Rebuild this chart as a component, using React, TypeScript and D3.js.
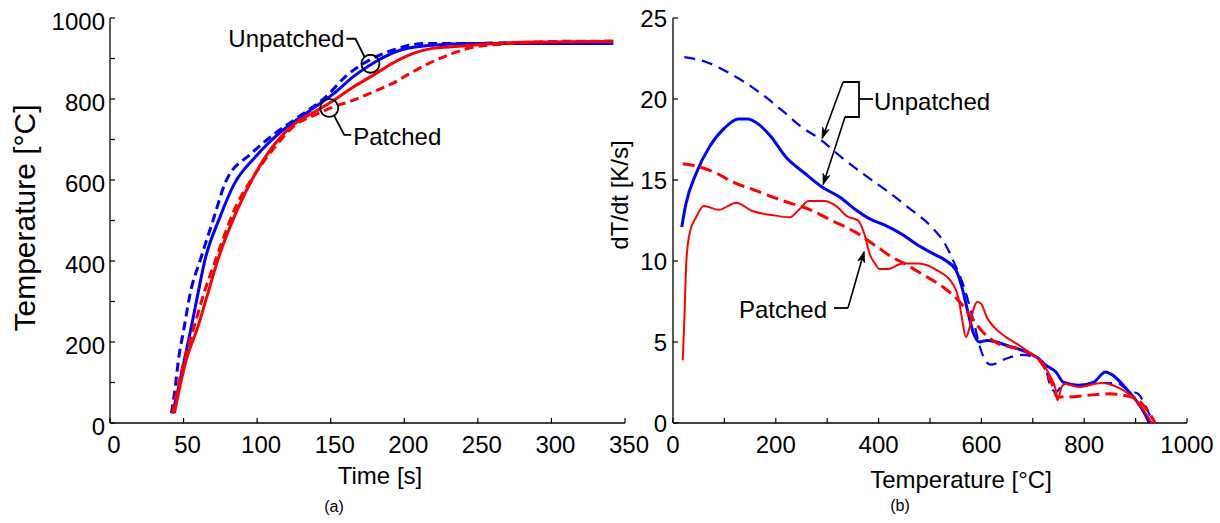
import React from "react";
import * as d3 from "d3";

type Pt = [number, number];

// (a) temperature vs time
const timeTicks = [0, 50, 100, 150, 200, 250, 300, 350];
const tempMinorTicks = [0, 100, 200, 300, 400, 500, 600, 700, 800, 900, 1000];
const tempTicks = [0, 200, 400, 600, 800, 1000];

const unpatchedSolidA: Pt[] = [
  [42.5, 24], [45.7, 73], [50.5, 155], [55.3, 238], [59.8, 320], [64.5, 402],
  [74.8, 509], [84.1, 588], [98.8, 657], [117.5, 723], [136.2, 772], [152.2, 814],
  [165.6, 856], [179, 889], [197.6, 921], [219, 933], [245.7, 937], [300, 937], [342, 937],
];
const unpatchedDashA: Pt[] = [
  [41.7, 24], [43.8, 73], [46.5, 155], [50.5, 238], [54.5, 320], [61.3, 402],
  [70, 500], [78.8, 597], [96.2, 666], [112.2, 715], [128.2, 756], [146.9, 806],
  [160.2, 856], [176.2, 896], [192.3, 921], [213.7, 937], [245.7, 937], [272, 939], [342, 937],
];
const patchedSolidA: Pt[] = [
  [43.8, 24], [46.5, 73], [51.8, 155], [59.8, 238], [66.5, 320], [73.2, 402],
  [85.5, 518], [98.8, 616], [112.2, 690], [125.5, 739], [138.9, 768], [152.2, 797],
  [165.6, 830], [179, 859], [192.3, 889], [205.7, 912], [219, 925], [232.4, 929],
  [250, 934], [280, 940], [342, 942],
];
const patchedDashA: Pt[] = [
  [42.5, 24], [45.2, 73], [50.5, 155], [57.2, 238], [63.8, 320], [71.7, 402],
  [85.5, 534], [98.8, 616], [112.2, 682], [125.5, 735], [138.9, 760], [152.2, 781],
  [165.6, 797], [179, 818], [192.3, 839], [205.7, 867], [219, 892], [232.4, 912],
  [245.7, 927], [272.4, 937], [299, 942], [342, 943],
];

// (b) heating rate vs temperature
const rateTicks = [0, 5, 10, 15, 20, 25];
const tempTicksB = [0, 200, 400, 600, 800, 1000];
const tempMinorB = [0, 100, 200, 300, 400, 500, 600, 700, 800, 900, 1000];

const unpatchedDashB: Pt[] = [
  [22, 22.58], [63, 22.3], [115, 21.5], [160, 20.6], [212, 19.3], [249, 18.3],
  [287, 17.5], [324, 16.5], [369, 15.4], [413, 14.4], [458, 13.3], [503, 12.1],
  [532, 10.9], [544, 10.1], [566, 8.4], [584, 6.4], [598, 4.6], [607, 3.9],
  [618, 3.6], [648, 3.97], [678, 4.2], [707, 4.07], [726, 3.25], [733, 2.4],
  [745, 1.9], [760, 2.43], [789, 2.3], [834, 2.47], [864, 2.47], [886, 2.0],
  [905, 1.8], [920, 1.0], [934, 0],
];
const unpatchedSolidB: Pt[] = [
  [17, 12.1], [25, 13.5], [45, 15.4], [71, 17.05], [100, 18.2], [127, 18.76],
  [145, 18.76], [168, 18.4], [190, 17.7], [220, 16.4], [257, 15.4], [290, 14.57],
  [324, 13.95], [354, 13.2], [383, 12.6], [413, 12.2], [443, 11.7], [473, 11.05],
  [503, 10.5], [529, 10.06], [551, 9.4], [562, 8.4], [573, 6.95], [584, 5.6],
  [596, 5.0], [611, 5.1], [629, 5.0], [648, 4.8], [678, 4.5], [707, 4.07],
  [726, 3.56], [745, 3.15], [760, 2.5], [789, 2.33], [819, 2.53], [841, 3.15],
  [856, 2.94], [879, 2.22], [901, 1.4], [916, 0.68], [927, 0],
];
const patchedDashB: Pt[] = [
  [19, 16.0], [52, 15.8], [86, 15.4], [115, 14.9], [160, 14.36], [212, 13.74],
  [264, 13.2], [309, 12.5], [354, 11.8], [398, 10.85], [428, 10.2], [447, 9.9],
  [484, 9.2], [529, 8.3], [558, 7.47], [581, 6.5], [603, 5.6], [633, 4.9],
  [670, 4.6], [700, 4.2], [722, 3.46], [737, 2.43], [748, 1.6], [767, 1.6],
  [804, 1.7], [849, 1.8], [879, 1.7], [901, 1.5], [923, 0.78], [938, 0],
];
const patchedSolidB: Pt[] = [
  [19, 3.87], [22, 6.3], [26, 10.0], [33, 11.8], [45, 12.7], [60, 13.4],
  [89, 13.16], [123, 13.6], [153, 13.1], [190, 12.85], [227, 12.7], [246, 13.2],
  [264, 13.7], [294, 13.7], [317, 13.4], [339, 12.75], [360, 12.5], [372, 11.7],
  [383, 10.4], [393, 9.84], [402, 9.5], [417, 9.5], [447, 9.84], [477, 9.84],
  [514, 9.42], [544, 8.6], [555, 7.78], [562, 6.5], [570, 5.3], [577, 5.9],
  [584, 6.95], [592, 7.47], [599, 7.37], [611, 6.5], [625, 5.9], [648, 5.3],
  [678, 4.7], [700, 4.2], [715, 3.87], [733, 2.94], [745, 2.0], [748, 1.4],
  [756, 2.22], [763, 2.43], [789, 2.22], [834, 2.47], [864, 2.22], [894, 1.6],
  [916, 0.78], [931, 0],
];

// annotation anchors (data units)
const circleUnpatchedA: Pt = [177, 887];
const circlePatchedA: Pt = [149, 778];
const arrowUnpatchedDashB: Pt = [290, 17.55];
const arrowUnpatchedSolidB: Pt = [292, 14.7];
const arrowPatchedB: Pt = [372, 10.6];

const FONT = "'Liberation Sans', Arial, Helvetica, sans-serif";
const BLUE = "#0000ff";
const RED = "#ff0000";

const xA = d3.scaleLinear().domain([0, 350]).range([110, 625]);
const yA = d3.scaleLinear().domain([0, 1000]).range([423, 18]);
const xB = d3.scaleLinear().domain([0, 1000]).range([673, 1187]);
const yB = d3.scaleLinear().domain([0, 25]).range([423, 18]);

const Arrow: React.FC<{ x1: number; y1: number; x2: number; y2: number }> = ({ x1, y1, x2, y2 }) => {
  const a = Math.atan2(y2 - y1, x2 - x1);
  const L = 11;
  const W = 3.5;
  const bx = x2 - L * Math.cos(a);
  const by = y2 - L * Math.sin(a);
  const px = -Math.sin(a) * W;
  const py = Math.cos(a) * W;
  const nx = x2 - 0.7 * L * Math.cos(a);
  const ny = y2 - 0.7 * L * Math.sin(a);
  return (
    <g>
      <line x1={x1} y1={y1} x2={nx} y2={ny} stroke="#000" strokeWidth={1.6} />
      <path
        d={`M${x2},${y2}L${bx + px},${by + py}L${nx},${ny}L${bx - px},${by - py}Z`}
        fill="#000"
        stroke="#000"
        strokeWidth={0.8}
      />
    </g>
  );
};

export default function App() {
  const lineA = d3
    .line<Pt>()
    .x(d => xA(d[0]))
    .y(d => yA(d[1]))
    .curve(d3.curveMonotoneX);
  const lineB = d3
    .line<Pt>()
    .x(d => xB(d[0]))
    .y(d => yB(d[1]))
    .curve(d3.curveMonotoneX);

  const cu = [xA(circleUnpatchedA[0]), yA(circleUnpatchedA[1])];
  const cp = [xA(circlePatchedA[0]), yA(circlePatchedA[1])];
  const aud = [xB(arrowUnpatchedDashB[0]), yB(arrowUnpatchedDashB[1])];
  const aus = [xB(arrowUnpatchedSolidB[0]), yB(arrowUnpatchedSolidB[1])];
  const ap = [xB(arrowPatchedB[0]), yB(arrowPatchedB[1])];

  return (
    <svg
      width={1220}
      height={523}
      style={{ position: "absolute", left: 0, top: 0, background: "#fff" }}
      fontFamily={FONT}
    >
      <rect width={1220} height={523} fill="#fff" />

      {/* ---------- (a) ---------- */}
      <g>
        <line x1={110} y1={423} x2={625} y2={423} stroke="#000" strokeWidth={1.3} />
        <line x1={110} y1={18} x2={110} y2={423} stroke="#000" strokeWidth={1.3} />
        {timeTicks.map(t => (
          <g key={"ta" + t}>
            <line x1={xA(t)} x2={xA(t)} y1={423} y2={418} stroke="#000" strokeWidth={1.2} />
            <text x={xA(t) + 4} y={453} fontSize={24} textAnchor="middle">
              {t}
            </text>
          </g>
        ))}
        {tempMinorTicks.map(v => (
          <line key={"ma" + v} x1={110} x2={115} y1={yA(v)} y2={yA(v)} stroke="#000" strokeWidth={1.2} />
        ))}
        {tempTicks.map(v => (
          <text key={"ya" + v} x={105} y={yA(v) + 12} fontSize={24} textAnchor="end">
            {v}
          </text>
        ))}
        <text x={380} y={484} fontSize={24} textAnchor="middle">
          Time [s]
        </text>
        <text
          transform={`translate(35,218) rotate(-90)`}
          fontSize={30}
          textAnchor="middle"
        >
          Temperature [°C]
        </text>
        <text x={334} y={512} fontSize={16} textAnchor="middle">
          (a)
        </text>

        <path d={lineA(unpatchedSolidA) || ""} fill="none" stroke={BLUE} strokeWidth={3} />
        <path d={lineA(unpatchedDashA) || ""} fill="none" stroke={BLUE} strokeWidth={3} strokeDasharray="9,5" />
        <path d={lineA(patchedSolidA) || ""} fill="none" stroke={RED} strokeWidth={3} />
        <path d={lineA(patchedDashA) || ""} fill="none" stroke={RED} strokeWidth={3} strokeDasharray="9,5" />

        {/* annotations */}
        <circle cx={cu[0]} cy={cu[1]} r={9} fill="none" stroke="#000" strokeWidth={1.8} />
        <polyline
          points={`${cu[0] - 6},${cu[1] - 7} ${cu[0] - 15},${cu[1] - 25} ${cu[0] - 24},${cu[1] - 25}`}
          fill="none"
          stroke="#000"
          strokeWidth={1.8}
        />
        <text x={cu[0] - 26} y={cu[1] - 17} fontSize={24} textAnchor="end">
          Unpatched
        </text>
        <circle cx={cp[0]} cy={cp[1]} r={9} fill="none" stroke="#000" strokeWidth={1.8} />
        <polyline
          points={`${cp[0] + 5},${cp[1] + 8} ${cp[0] + 15},${cp[1] + 27} ${cp[0] + 22},${cp[1] + 27}`}
          fill="none"
          stroke="#000"
          strokeWidth={1.8}
        />
        <text x={cp[0] + 24} y={cp[1] + 37} fontSize={24}>
          Patched
        </text>
      </g>

      {/* ---------- (b) ---------- */}
      <g>
        <line x1={673} y1={423} x2={1187} y2={423} stroke="#000" strokeWidth={1.3} />
        <line x1={673} y1={18} x2={673} y2={423} stroke="#000" strokeWidth={1.3} />
        {tempMinorB.map(t => (
          <line key={"mb" + t} x1={xB(t)} x2={xB(t)} y1={423} y2={418} stroke="#000" strokeWidth={1.2} />
        ))}
        {tempTicksB.map(t => (
          <text key={"tb" + t} x={xB(t)} y={453} fontSize={24} textAnchor="middle">
            {t}
          </text>
        ))}
        {rateTicks.map(v => (
          <g key={"yb" + v}>
            <line x1={673} x2={678} y1={yB(v)} y2={yB(v)} stroke="#000" strokeWidth={1.2} />
            <text x={667} y={yB(v) + 9} fontSize={24} textAnchor="end">
              {v}
            </text>
          </g>
        ))}
        <text x={961} y={488} fontSize={24} textAnchor="middle">
          Temperature [°C]
        </text>
        <text transform={`translate(628,195) rotate(-90)`} fontSize={24} textAnchor="middle">
          dT/dt [K/s]
        </text>
        <text x={900} y={511} fontSize={16} textAnchor="middle">
          (b)
        </text>

        <path d={lineB(unpatchedDashB) || ""} fill="none" stroke={BLUE} strokeWidth={2.2} strokeDasharray="11,7" />
        <path d={lineB(unpatchedSolidB) || ""} fill="none" stroke={BLUE} strokeWidth={3} />
        <path d={lineB(patchedDashB) || ""} fill="none" stroke={RED} strokeWidth={3} strokeDasharray="12,6" />
        <path d={lineB(patchedSolidB) || ""} fill="none" stroke={RED} strokeWidth={2} />

        {/* Unpatched bracket */}
        <polyline points={`873,99 859,99`} fill="none" stroke="#000" strokeWidth={1.8} />
        <polyline
          points={`843,82 859,82 859,117 845,117`}
          fill="none"
          stroke="#000"
          strokeWidth={1.8}
        />
        <Arrow x1={843} y1={82} x2={aud[0]} y2={aud[1]} />
        <Arrow x1={845} y1={117} x2={aus[0]} y2={aus[1]} />
        <text x={874} y={110} fontSize={24}>
          Unpatched
        </text>

        {/* Patched leader */}
        <polyline points={`834,308 848,308`} fill="none" stroke="#000" strokeWidth={1.8} />
        <Arrow x1={848} y1={308} x2={ap[0]} y2={ap[1]} />
        <text x={827} y={318} fontSize={24} textAnchor="end">
          Patched
        </text>
      </g>
    </svg>
  );
}
